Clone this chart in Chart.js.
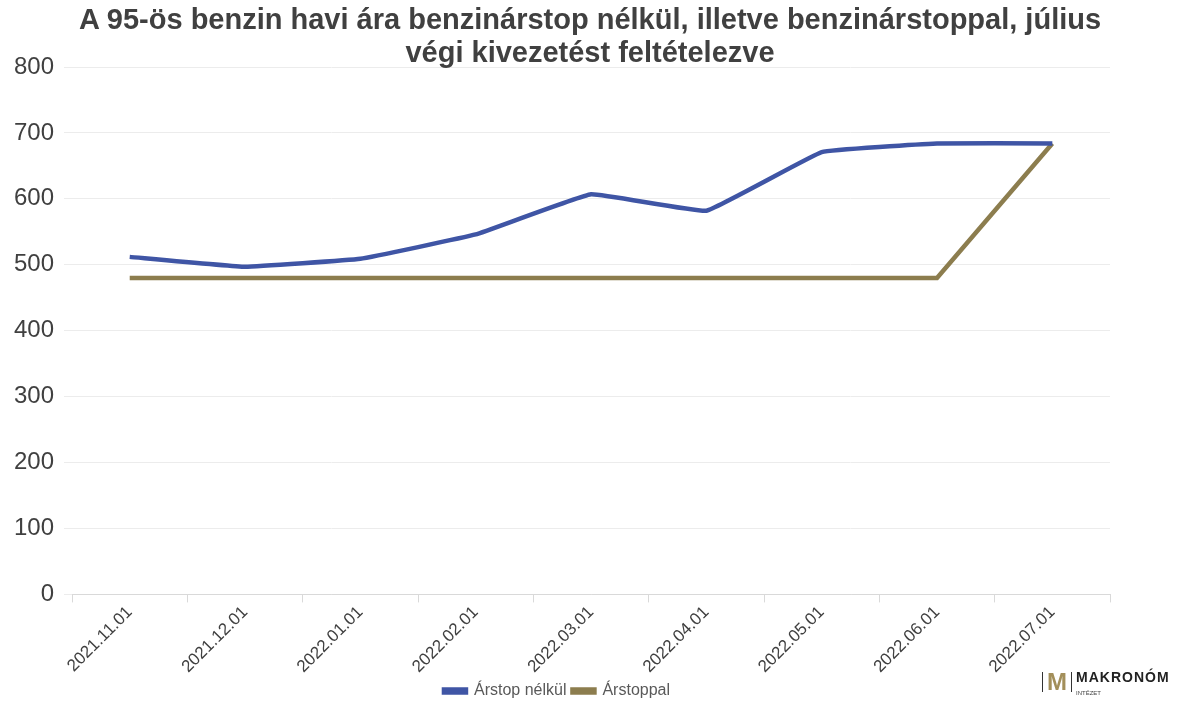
<!DOCTYPE html>
<html><head><meta charset="utf-8">
<script src="https://cdn.jsdelivr.net/npm/chart.js@4"></script>
<style>
body{margin:0;background:#fff;font-family:"Liberation Sans",Arial,sans-serif}
#wrap{position:relative;width:1200px;height:719px}
#title{position:absolute;left:0;width:1180px;top:3px;text-align:center;font:bold 29px/33px 'Liberation Sans';color:#404040}
#logo{position:absolute;left:1042px;top:668px;display:flex;align-items:center}
</style></head><body>
<div id="wrap"><canvas id="c" width="1200" height="719"></canvas>
<div id="title">A 95-ös benzin havi ára benzinárstop nélkül, illetve benzinárstoppal, július<br>végi kivezetést feltételezve</div>
<div id="logo"><span style="width:1px;height:20px;background:#333;margin-right:4px"></span><span style="font:bold 24px 'Liberation Sans';color:#a38f5a">M</span><span style="width:1px;height:20px;background:#333;margin:0 4px"></span><span style="line-height:10px"><span style="font:bold 14px 'Liberation Sans';color:#222;letter-spacing:1px">MAKRONÓM</span><br><span style="font:6px 'Liberation Sans';color:#444">INTÉZET</span></span></div>
</div>
<script>
const categories=["2021.11.01","2021.12.01","2022.01.01","2022.02.01","2022.03.01","2022.04.01","2022.05.01","2022.06.01","2022.07.01"];
const arstopNelkul=[512,497,509,546,607,582,671,684,684];
const arstoppal=[480,480,480,480,480,480,480,480,684];
const yTicks=[0,100,200,300,400,500,600,700,800];
new Chart(document.getElementById('c'),{type:'line',
data:{labels:categories,datasets:[
{label:'Árstop nélkül',data:arstopNelkul,borderColor:'#3f55a5',backgroundColor:'#3f55a5',borderWidth:4.5,pointRadius:0,tension:0.08},
{label:'Árstoppal',data:arstoppal,borderColor:'#8c7d4e',backgroundColor:'#8c7d4e',borderWidth:4.5,pointRadius:0,tension:0}]},
options:{responsive:false,animation:false,
layout:{padding:{left:4,right:90,top:67,bottom:10}},
plugins:{title:{display:false},
legend:{position:'bottom',labels:{boxWidth:22,boxHeight:3,font:{family:'Liberation Sans',size:16},color:'#595959',padding:6}}},
scales:{x:{offset:true,grid:{display:true,offset:true,drawOnChartArea:false,color:'#d9d9d9',tickLength:8},border:{color:'#d9d9d9'},ticks:{maxRotation:45,minRotation:45,padding:0,font:{family:'Liberation Sans',size:17},color:'#404040'}},
y:{min:0,max:800,afterBuildTicks:a=>{a.ticks=yTicks.map(v=>({value:v}))},grid:{color:'#ececec'},border:{display:false},ticks:{font:{family:'Liberation Sans',size:24},color:'#404040',padding:10}}}}});
</script></body></html>
